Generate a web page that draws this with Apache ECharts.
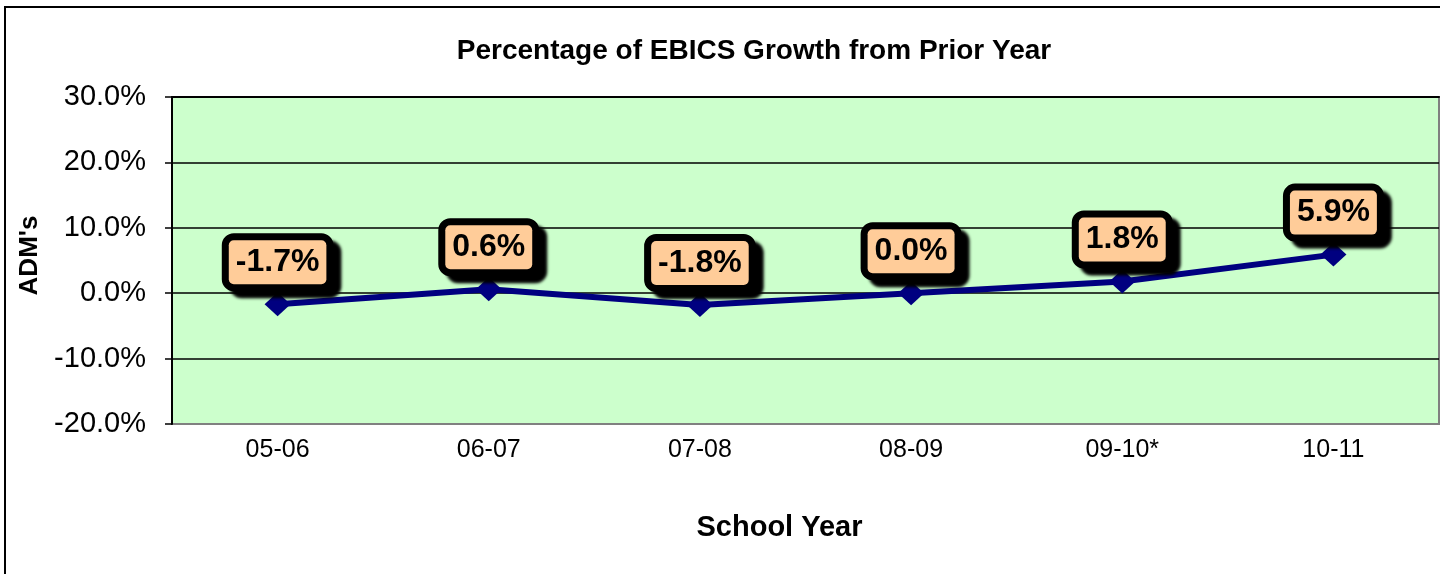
<!DOCTYPE html>
<html>
<head>
<meta charset="utf-8">
<title>EBICS Growth</title>
<script src="https://cdn.jsdelivr.net/npm/echarts@6/dist/echarts.min.js"></script>
<style>
  html, body { margin: 0; padding: 0; background: #fff; }
  #myCharts { width: 1440px; height: 574px; }
</style>
</head>
<body>
<div id="myCharts"></div>
<script>
// school years (x axis)
var schoolYears = ['05-06', '06-07', '07-08', '08-09', '09-10*', '10-11'];
// growth from prior year, in percent
var growthPct = [-1.7, 0.6, -1.8, 0.0, 1.8, 5.9];
// y axis range, percent
var yMin = -20, yMax = 30, yStep = 10;

var fontFam = '"Liberation Sans", Arial, sans-serif';
var myChart = echarts.init(document.getElementById('myCharts'));

myChart.setOption({
  animation: false,
  textStyle: { fontFamily: fontFam, color: '#000' },
  title: {
    text: 'Percentage of EBICS Growth from Prior Year',
    left: 749,
    top: 32,
    textAlign: 'center',
    textStyle: { fontSize: 28, fontWeight: 'bold', color: '#000', fontFamily: fontFam }
  },
  graphic: [{
    type: 'rect',
    z: -10,
    shape: { x: 5, y: 7, width: 2000, height: 2000 },
    style: { fill: 'none', stroke: '#000', lineWidth: 2 }
  }],
  grid: {
    left: 172, top: 97, right: 1, bottom: 150,
    show: true,
    backgroundColor: '#CCFFCC',
    borderColor: '#808080',
    borderWidth: 2
  },
  xAxis: [{
    type: 'category',
    position: 'bottom',
    data: schoolYears,
    axisLine: { show: false },
    axisTick: { show: false },
    axisLabel: { fontSize: 25, color: '#000', margin: 14 },
    name: 'School Year',
    nameLocation: 'middle',
    nameGap: 89,
    nameTextStyle: { fontSize: 29, fontWeight: 'bold', color: '#000', padding: [0, 52, 0, 0] }
  }, {
    // zero line with the small ticks between the years
    type: 'category',
    position: 'top',
    data: schoolYears,
    axisLine: { onZero: true, lineStyle: { color: '#000', width: 2 } },
    axisTick: { inside: true, length: 7, lineStyle: { color: '#000', width: 1.5 } },
    axisLabel: { show: false }
  }],
  yAxis: {
    type: 'value',
    min: yMin, max: yMax, interval: yStep,
    axisLine: { show: true, lineStyle: { color: '#000', width: 2 } },
    axisTick: { show: true, length: 7, lineStyle: { color: '#000', width: 1.5 } },
    splitLine: { lineStyle: { color: ['#808080', '#000', '#000', '#000', '#000', '#808080'], width: 1.5 } },
    axisLabel: {
      fontSize: 29, color: '#000', margin: 26, padding: [5, 0, 0, 0],
      formatter: function (v) { return v.toFixed(1) + '%'; }
    },
    name: "ADM's",
    nameLocation: 'middle',
    nameRotate: 90,
    nameGap: 125,
    nameTextStyle: { fontSize: 26, fontWeight: 'bold', color: '#000', padding: [0, 0, 0, 10] }
  },
  series: [{
    type: 'line',
    xAxisIndex: 0,
    data: growthPct,
    symbol: 'diamond',
    symbolSize: [26, 24],
    lineStyle: { color: '#000080', width: 6 },
    itemStyle: { color: '#000080' },
    label: {
      show: true,
      position: 'top',
      distance: 8,
      formatter: function (p) { return p.value.toFixed(1) + '%'; },
      fontSize: 32,
      fontWeight: 'bold',
      color: '#000',
      lineHeight: 34,
      backgroundColor: '#FFCC99',
      borderColor: '#000',
      borderWidth: 7,
      borderRadius: 5,
      padding: [5, 7, 5, 7],
      shadowColor: '#000',
      shadowOffsetX: 8,
      shadowOffsetY: 7,
      shadowBlur: 3
    }
  }]
});
</script>
</body>
</html>
